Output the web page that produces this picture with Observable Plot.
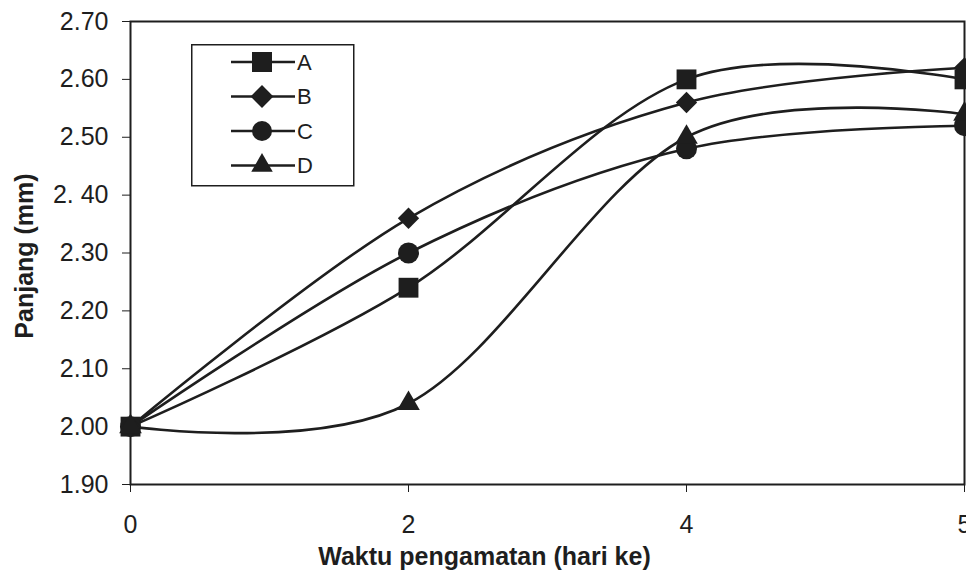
<!DOCTYPE html>
<html>
<head>
<meta charset="utf-8">
<script src="https://cdn.jsdelivr.net/npm/d3@7"></script>
<script src="https://cdn.jsdelivr.net/npm/@observablehq/plot@0.6"></script>
<style>
  html, body { margin: 0; padding: 0; background: #fff; }
  #wrap { position: relative; width: 966px; height: 580px; overflow: hidden; }
  #legend { position: absolute; left: 191px; top: 44px; }
</style>
</head>
<body>
<div id="wrap"><div id="chart"></div><svg id="legend" width="164" height="143"></svg></div>
<script>
// ---- data ----
const days = ["0", "2", "4", "5"];
const seriesNames = ["A", "B", "C", "D"];
const seriesA = [2.00, 2.24, 2.60, 2.60];
const seriesB = [2.00, 2.36, 2.56, 2.62];
const seriesC = [2.00, 2.30, 2.48, 2.52];
const seriesD = [2.00, 2.04, 2.50, 2.54];
const yTicks = [1.9, 2.0, 2.1, 2.2, 2.3, 2.4, 2.5, 2.6, 2.7];
const yTickLabels = ["1.90", "2.00", "2.10", "2.20", "2.30", "2. 40", "2.50", "2.60", "2.70"];
const xTitle = "Waktu pengamatan (hari ke)";
const yTitle = "Panjang (mm)";

// ---- build table ----
const allSeries = [seriesA, seriesB, seriesC, seriesD];
const rows = [];
seriesNames.forEach((s, si) => days.forEach((d, di) => rows.push({series: s, day: d, value: allSeries[si][di]})));

const ink = "#1e1e1e";
const symbolOf = {A: "square", B: "diamond2", C: "circle", D: "triangle"};
const rOf = {A: 11.2, B: 9.6, C: 10.5, D: 8.4};

const chart = Plot.plot({
  width: 966,
  height: 580,
  marginLeft: 130,
  marginRight: 2,
  marginTop: 21,
  marginBottom: 96,
  style: {fontFamily: "'Liberation Sans', Arial, sans-serif", fontSize: "25px", color: ink, background: "#fff", overflow: "visible"},
  x: {type: "point", domain: days, padding: 0},
  y: {domain: [1.9, 2.7]},
  symbol: {domain: seriesNames, range: seriesNames.map(s => symbolOf[s])},
  r: {type: "identity"},
  marks: [
    Plot.frame({stroke: ink, strokeWidth: 2}),
    Plot.axisY({ticks: yTicks, tickFormat: d => yTickLabels[yTicks.indexOf(d)], tickSize: 8, tickPadding: 14, label: null, stroke: ink, fill: ink}),
    Plot.axisX({tickSize: 8, tickPadding: 23, label: null, stroke: ink, fill: ink}),
    Plot.line(rows, {x: "day", y: "value", z: "series", curve: "cardinal", stroke: ink, strokeWidth: 2.6}),
    Plot.dot(rows.slice().reverse(), {x: "day", y: "value", symbol: "series", r: d => rOf[d.series], fill: ink, stroke: "none"}),
    Plot.text([xTitle], {frameAnchor: "bottom", dx: -63, dy: 80, fontWeight: "bold", fontSize: 25, fill: ink, textAnchor: "middle"}),
    Plot.text([yTitle], {frameAnchor: "left", dx: -106, dy: 3, rotate: -90, fontWeight: "bold", fontSize: 25, fill: ink, textAnchor: "middle"})
  ]
});
document.getElementById("chart").appendChild(chart);

// ---- legend ----
const lg = d3.select("#legend");
lg.append("rect").attr("x", 0.75).attr("y", 0.75).attr("width", 162).attr("height", 141)
  .attr("fill", "#fff").attr("stroke", ink).attr("stroke-width", 1.5);
const legSym = {A: d3.symbolSquare, B: d3.symbolDiamond2, C: d3.symbolCircle, D: d3.symbolTriangle};
const legSize = {A: 400, B: 330, C: 314, D: 200};
seriesNames.forEach((s, i) => {
  const cy = 18 + i * 34.5;
  const g = lg.append("g").attr("transform", `translate(0,${cy})`);
  g.append("line").attr("x1", 40).attr("x2", 104).attr("y1", 0).attr("y2", 0).attr("stroke", ink).attr("stroke-width", 2.6);
  g.append("path").attr("d", d3.symbol(legSym[s], legSize[s])()).attr("transform", "translate(71,0)").attr("fill", ink);
  g.append("text").attr("x", 106).attr("y", 0).attr("dy", "0.36em").attr("fill", ink)
    .style("font", "22px 'Liberation Sans', Arial, sans-serif").text(s);
});
</script>
</body>
</html>
